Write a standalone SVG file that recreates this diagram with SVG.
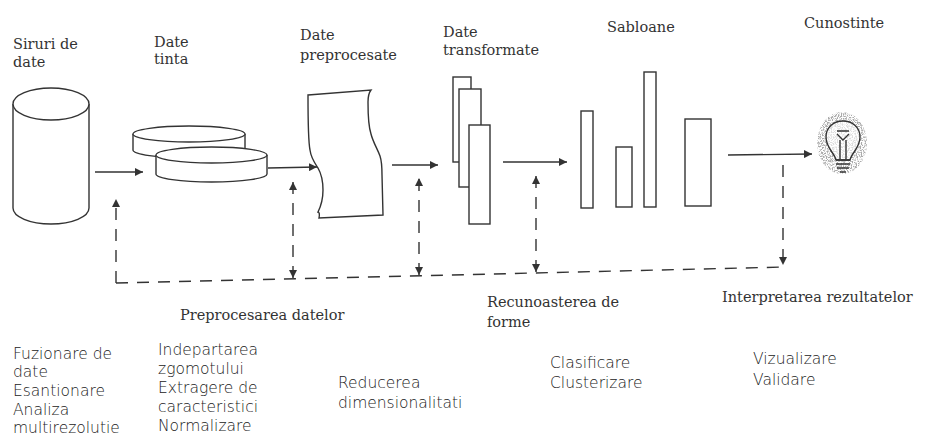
<svg xmlns="http://www.w3.org/2000/svg" width="928" height="438" viewBox="0 0 928 438">
  <defs>
    <style>
      .shape { fill: #fff; stroke: #333; stroke-width: 1.4; }
      .line { fill: none; stroke: #333; stroke-width: 1.4; }
      .dash { fill: none; stroke: #333; stroke-width: 1.4; stroke-dasharray: 12 9; }
      .serif { font-family: "DejaVu Serif", "Liberation Serif", serif; font-size: 14.5px; fill: #333; }
      .sans { font-family: "DejaVu Sans", "Liberation Sans", sans-serif; font-size: 15.5px; font-weight: 300; fill: #222; }
    </style>
    <marker id="tip" viewBox="0 0 10 10" refX="10" refY="5" markerWidth="8" markerHeight="8" markerUnits="userSpaceOnUse" orient="auto-start-reverse">
      <path d="M0,0 L10,5 L0,10 Z" fill="#333"/>
    </marker>
    <!-- grainy grey halo around the bulb -->
    <filter id="grain" x="-10%" y="-10%" width="120%" height="120%">
      <feTurbulence type="fractalNoise" baseFrequency="0.8" numOctaves="2" seed="4" result="noise"/>
      <feColorMatrix in="noise" type="matrix" values="0 0 0 0 0.4  0 0 0 0 0.4  0 0 0 0 0.4  5 0 0 0 -2.2" result="dots"/>
      <feComposite in="dots" in2="SourceGraphic" operator="in"/>
    </filter>
  </defs>

  <rect width="928" height="438" fill="#fff"/>

  <!-- data sources: cylinder -->
  <g id="siruri">
    <path class="shape" d="M13,104 L13,208 A38,16 0 0 0 89,208 L89,104"/>
    <ellipse class="shape" cx="51" cy="104" rx="38" ry="16"/>
    <text class="serif" x="13" y="49">Siruri de</text>
    <text class="serif" x="13" y="67">date</text>
  </g>

  <!-- target data: two disks -->
  <g id="tinta">
    <path class="shape" d="M133,134 L133,150 A56,8 0 0 0 245,150 L245,134"/>
    <ellipse class="shape" cx="189" cy="134" rx="56" ry="8"/>
    <path class="shape" d="M156,155 L156,174 A55.5,8 0 0 0 267,174 L267,155"/>
    <ellipse class="shape" cx="211.5" cy="155" rx="55.5" ry="8"/>
    <text class="serif" x="154" y="47">Date</text>
    <text class="serif" x="154" y="64">tinta</text>
  </g>

  <!-- preprocessed data: torn sheet -->
  <g id="preprocesate">
    <path class="shape" d="M308,95 L371,90 C368,94 368,98 368,102 C368,115 369,128 371,134 C373,142 377,148 380,156 C382,162 382,168 382,175 L383,215 L319,218 C320,214 319,212 318,212 C321,206 323,200 323,190 C323,182 322,175 318,168 C314,162 311,158 310,150 C308,140 308,110 308,95 Z"/>
    <text class="serif" x="300" y="40">Date</text>
    <text class="serif" x="300" y="60">preprocesate</text>
  </g>

  <!-- transformed data: stacked strips -->
  <g id="transformate">
    <rect class="shape" x="453" y="77" width="18" height="85"/>
    <rect class="shape" x="459" y="89" width="22" height="98"/>
    <rect class="shape" x="469" y="125" width="21" height="99"/>
    <text class="serif" x="443" y="37">Date</text>
    <text class="serif" x="443" y="55">transformate</text>
  </g>

  <!-- patterns: bars -->
  <g id="sabloane">
    <rect class="shape" x="581" y="111" width="12" height="97"/>
    <rect class="shape" x="616" y="147" width="16" height="60"/>
    <rect class="shape" x="644" y="72" width="12" height="135"/>
    <rect class="shape" x="685" y="119" width="26" height="87"/>
    <text class="serif" x="607" y="32">Sabloane</text>
  </g>

  <!-- knowledge: light bulb -->
  <g id="cunostinte">
    <ellipse cx="842" cy="143" rx="25" ry="31" fill="#000" filter="url(#grain)"/>
    <path d="M836,160 C834,152 826,148 826,137 C826,127 834,121 843,121 C852,121 860,127 860,137 C860,148 852,152 850,160 Z" fill="#fff" fill-opacity="0.6"/>
    <path class="line" stroke-width="1.6" d="M836,160 C834,152 826,148 826,137 C826,127 834,121 843,121 C852,121 860,127 860,137 C860,148 852,152 850,160 Z"/>
    <path class="line" stroke-width="1.6" d="M836,160 L850,160 M836,164 L850,164 M837,168 L849,168 M840,172 L846,172"/>
    <path class="line" stroke-width="1.2" d="M840,159 L840,140 M846,159 L846,140 M837,134 L843,140 L849,134 M837,131 L849,131"/>
    <text class="serif" x="804" y="28">Cunostinte</text>
  </g>

  <!-- stage labels and step lists -->
  <g id="preprocesarea">
    <text class="serif" x="180" y="320">Preprocesarea datelor</text>
    <text class="sans" x="13" y="359">Fuzionare de</text>
    <text class="sans" x="13" y="377">date</text>
    <text class="sans" x="13" y="396">Esantionare</text>
    <text class="sans" x="13" y="415">Analiza</text>
    <text class="sans" x="13" y="433">multirezolutie</text>
    <text class="sans" x="158" y="355">Indepartarea</text>
    <text class="sans" x="158" y="374">zgomotului</text>
    <text class="sans" x="158" y="393">Extragere de</text>
    <text class="sans" x="158" y="412">caracteristici</text>
    <text class="sans" x="158" y="431">Normalizare</text>
    <text class="sans" x="338" y="388">Reducerea</text>
    <text class="sans" x="338" y="408">dimensionalitati</text>
  </g>

  <g id="recunoasterea">
    <text class="serif" x="487" y="307">Recunoasterea de</text>
    <text class="serif" x="487" y="327">forme</text>
    <text class="sans" x="550" y="368">Clasificare</text>
    <text class="sans" x="550" y="388">Clusterizare</text>
  </g>

  <g id="interpretarea">
    <text class="serif" x="722" y="302">Interpretarea rezultatelor</text>
    <text class="sans" x="753" y="364">Vizualizare</text>
    <text class="sans" x="753" y="385">Validare</text>
  </g>

  <!-- connectors -->
  <g id="connectors">
    <path class="line" marker-end="url(#tip)" d="M95,172 L143,172"/>
    <path class="line" marker-end="url(#tip)" d="M268,168 L317,167"/>
    <path class="line" marker-end="url(#tip)" d="M392,165 L438,165"/>
    <path class="line" marker-end="url(#tip)" d="M503,162 L567,162"/>
    <path class="line" marker-end="url(#tip)" d="M728,155 L812,154"/>

    <path class="dash" d="M116,283 L785,267"/>
    <path class="dash" marker-end="url(#tip)" d="M116,283 L116,199"/>
    <path class="dash" marker-start="url(#tip)" marker-end="url(#tip)" d="M293,278 L293,182"/>
    <path class="dash" marker-start="url(#tip)" marker-end="url(#tip)" d="M419,275 L419,178"/>
    <path class="dash" marker-start="url(#tip)" marker-end="url(#tip)" d="M536,272 L536,176"/>
    <path class="dash" marker-end="url(#tip)" d="M783,165 L783,265"/>
  </g>
</svg>
